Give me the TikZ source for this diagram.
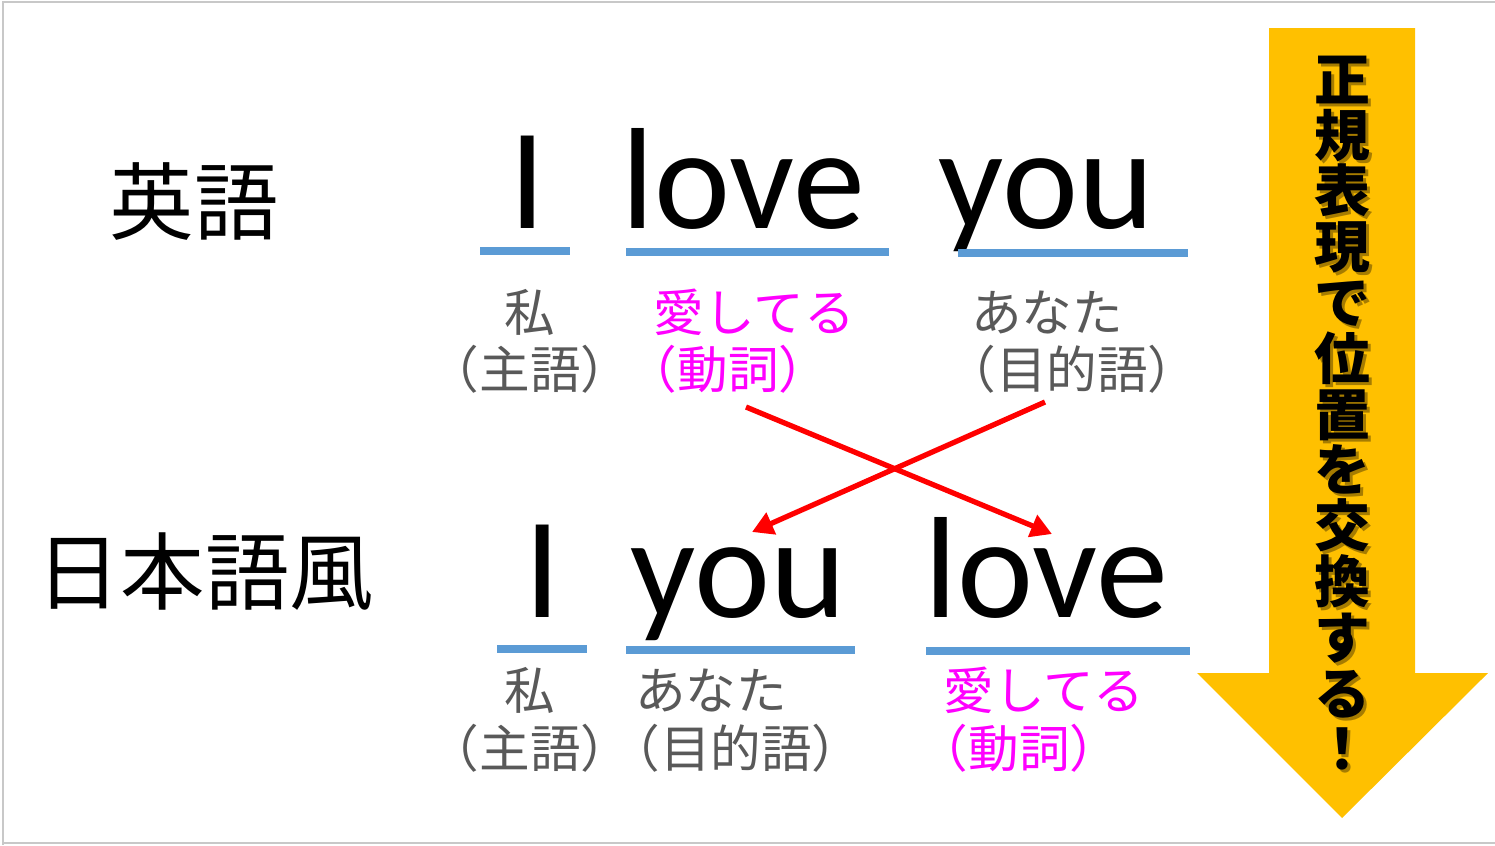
\documentclass[tikz,border=0pt]{standalone}
\usepackage{fontspec}
\setmainfont{Carlito}
\newfontfamily\jp{Noto Sans CJK JP}
\usetikzlibrary{arrows.meta}
\definecolor{lblgray}{HTML}{595959}
\definecolor{verbmag}{HTML}{FF00FF}
\definecolor{ulblue}{HTML}{5B9BD5}
\definecolor{gold}{HTML}{FFC000}
\definecolor{xred}{HTML}{FF0000}
\definecolor{frame}{HTML}{C8C8C8}
\newcommand\trimparen[1]{\kern-0.45em#1\kern-0.45em\relax}
\tikzset{
  eng/.style={font=\fontsize{41}{41}\selectfont, inner sep=0pt, anchor=base},
  rowlbl/.style={font=\jp\fontsize{24}{24}\selectfont, inner sep=0pt, text height=21.1pt, text depth=2.9pt},
  jlbl/.style={font=\jp\fontsize{14.4}{14.4}\selectfont, inner sep=0pt, text height=12.7pt, text depth=1.7pt, text=lblgray},
  vlbl/.style={jlbl, text=verbmag},
  uline/.style={draw=ulblue, line width=2.3pt},
  swap/.style={draw=xred, line width=1.5pt, -{Triangle[length=6pt,width=6.5pt]}},
  vchar/.style={font=\jp\bfseries\fontsize{15.9}{15.9}\selectfont, inner sep=0pt, text height=14pt, text depth=1.9pt},
}
\begin{document}
\begin{tikzpicture}[x=0.1mm,y=-0.1mm]
\useasboundingbox (0,0) rectangle (1495,845);
% slide frame
\draw[frame, line width=0.6pt] (3,845) -- (3,2) -- (1495,2);
\draw[frame, line width=0.6pt] (3,843) -- (1495,843);
% row labels
\node[rowlbl] (en) at (194,202) {英語};
\node[rowlbl] (jaf) at (205,572) {日本語風};
% row 1 words
\node[eng] (w1i) at (528,228) {I};
\node[eng] (w1love) at (743,228) {love};
\node[eng] (w1you) at (1046,228) {you};
\draw[uline] (480,251) -- (570,251);
\draw[uline] (626,252) -- (889,252);
\draw[uline] (958,253) -- (1188,253);
% row 1 glosses
\node[jlbl] (g1a) at (530,312) {私};
\node[jlbl] (g1b) at (530,369) {\trimparen{（主語）}};
\node[vlbl, anchor=west] (g1c) at (653,312) {愛してる};
\node[vlbl] (g1d) at (728,369) {\trimparen{（動詞）}};
\node[jlbl] (g1e) at (1047,312) {あなた};
\node[jlbl] (g1f) at (1072,369) {\trimparen{（目的語）}};
% row 2 words
\node[eng] (w2i) at (543,617) {I};
\node[eng] (w2you) at (738,617) {you};
\node[eng] (w2love) at (1046,617) {love};
\draw[uline] (497,649) -- (587,649);
\draw[uline] (626,650) -- (855,650);
\draw[uline] (926,651) -- (1190,651);
% row 2 glosses
\node[jlbl] (g2a) at (530,690) {私};
\node[jlbl] (g2b) at (530,748) {\trimparen{（主語）}};
\node[jlbl] (g2c) at (711,690) {あなた};
\node[jlbl] (g2d) at (736,748) {\trimparen{（目的語）}};
\node[vlbl] (g2e) at (1044,690) {愛してる};
\node[vlbl] (g2f) at (1019,748) {\trimparen{（動詞）}};
% swap arrows
\coordinate (a1s) at (746,407);
\coordinate (a1e) at (1052,534);
\coordinate (a2s) at (1045,402);
\coordinate (a2e) at (752,532);
\draw[swap] (a1s) -- (a1e);
\draw[swap] (a2s) -- (a2e);
% big down arrow
\fill[gold] (1269,28) -- (1415,28) -- (1415,673) -- (1488,673) -- (1342,818) -- (1197,673) -- (1269,673) -- cycle;
\foreach \c [count=\i] in {正,規,表,現,で,位,置,を,交,換,す,る,！}{
  \node[vchar, text=black, opacity=0.35] at (1345, 26.2+\i*55.8) {\c};
  \node[vchar] (v\i) at (1342, 23.2+\i*55.8) {\c};
}
\end{tikzpicture}
\end{document}
